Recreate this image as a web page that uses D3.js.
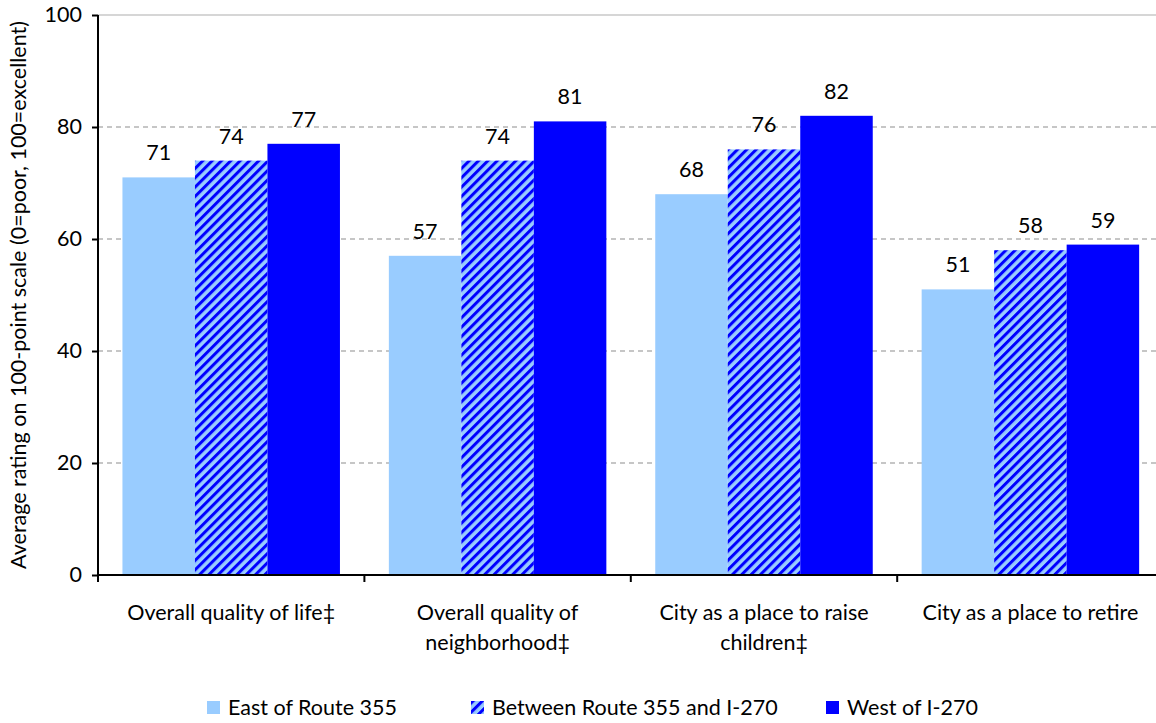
<!DOCTYPE html>
<html>
<head>
<meta charset="utf-8">
<script src="https://cdn.jsdelivr.net/npm/d3@7"></script>
<style>
  html, body { margin: 0; padding: 0; background: #fff; overflow: hidden; }
  svg { display: block; }
  text { font-family: Lato, "Open Sans", sans-serif; fill: #000; }
</style>
</head>
<body>
<svg id="chart" width="1156" height="723"></svg>
<script>
const categories = [
  ["Overall quality of life‡"],
  ["Overall quality of", "neighborhood‡"],
  ["City as a place to raise", "children‡"],
  ["City as a place to retire"]
];
const seriesNames = ["East of Route 355", "Between Route 355 and I-270", "West of I-270"];
const eastValues = [71, 57, 68, 51];
const betweenValues = [74, 74, 76, 58];
const westValues = [77, 81, 82, 59];
const yTicks = [0, 20, 40, 60, 80, 100];
const yTitle = "Average rating on 100-point scale (0=poor, 100=excellent)";

const svg = d3.select("#chart");
const W = 1156, H = 723;
const m = { left: 98, top: 15, bottom: 148 };
const plotW = 1065.6;           // plot area extends slightly past the right edge (cropped)
const plotH = H - m.top - m.bottom;
const FS = 21.5;
const groupBarsW = 217.5;

const defs = svg.append("defs");
const pat = defs.append("pattern")
  .attr("id", "hatch")
  .attr("patternUnits", "userSpaceOnUse")
  .attr("width", 6.6).attr("height", 6.6)
  .attr("patternTransform", "rotate(45)");
pat.append("rect").attr("width", 6.6).attr("height", 6.6).attr("fill", "#99CCFF");
pat.append("rect").attr("width", 3).attr("height", 6.6).attr("fill", "#0000FF");

const fills = ["#99CCFF", "url(#hatch)", "#0000FF"];

const g = svg.append("g").attr("transform", `translate(${m.left},${m.top})`);

const x0 = d3.scaleBand().domain(d3.range(categories.length)).range([0, plotW]).paddingInner(0).paddingOuter(0);
const x1 = d3.scaleBand().domain(d3.range(3)).range([0, groupBarsW]);
const y = d3.scaleLinear().domain([0, 100]).range([plotH, 0]);

// gridlines
g.selectAll(".grid").data(yTicks.filter(d => d > 0)).enter().append("line")
  .attr("x1", 0).attr("x2", plotW)
  .attr("y1", d => y(d)).attr("y2", d => y(d))
  .attr("stroke", d => d === 100 ? "#c8c8c8" : "#b4b4b4")
  .attr("stroke-width", d => d === 100 ? 1.5 : 1.3)
  .attr("stroke-dasharray", d => d === 100 ? null : "5,4");

const data = categories.map((c, i) => ({ i, values: [eastValues[i], betweenValues[i], westValues[i]] }));

const groups = g.selectAll(".grp").data(data).enter().append("g")
  .attr("transform", d => `translate(${x0(d.i) + (x0.bandwidth() - groupBarsW) / 2},0)`);

groups.selectAll("rect").data(d => d.values.map((v, s) => ({ v, s }))).enter().append("rect")
  .attr("x", d => x1(d.s))
  .attr("width", x1.bandwidth())
  .attr("y", d => y(d.v))
  .attr("height", d => y(0) - y(d.v))
  .attr("fill", d => fills[d.s]);

groups.selectAll(".lbl").data(d => d.values.map((v, s) => ({ v, s }))).enter().append("text")
  .attr("x", d => x1(d.s) + x1.bandwidth() / 2)
  .attr("y", d => y(d.v) - 17)
  .attr("text-anchor", "middle")
  .attr("font-size", FS)
  .text(d => d.v);

// y axis
const yAxis = g.append("g").call(d3.axisLeft(y).tickValues(yTicks).tickSize(6).tickPadding(10).tickFormat(d3.format("d")));
yAxis.select(".domain").attr("stroke", "#000").attr("stroke-width", 2).attr("d", `M0,${plotH}V0`);
yAxis.selectAll(".tick line").attr("stroke", "#000").attr("stroke-width", 2);
yAxis.selectAll(".tick text").attr("font-size", FS).attr("font-family", "Lato, sans-serif").attr("fill", "#000");

// x axis
const xAxisG = g.append("g").attr("transform", `translate(0,${plotH})`);
xAxisG.append("line").attr("x1", 0).attr("x2", plotW).attr("y1", 0).attr("y2", 0).attr("stroke", "#000").attr("stroke-width", 2);
const bounds = d3.range(categories.length + 1).map(i => i < categories.length ? x0(i) : plotW);
xAxisG.selectAll(".xt").data(bounds).enter().append("line")
  .attr("x1", d => d).attr("x2", d => d).attr("y1", 0).attr("y2", 7)
  .attr("stroke", "#000").attr("stroke-width", 2);

const catText = xAxisG.selectAll(".cat").data(categories).enter().append("text")
  .attr("text-anchor", "middle")
  .attr("font-size", FS)
  .attr("transform", (d, i) => `translate(${x0(i) + x0.bandwidth() / 2},45)`);
catText.selectAll("tspan").data(d => d).enter().append("tspan")
  .attr("x", 0).attr("dy", (d, i) => i === 0 ? 0 : 29.5).text(d => d);

// y title
svg.append("text")
  .attr("transform", `translate(26,${m.top + plotH / 2}) rotate(-90)`)
  .attr("text-anchor", "middle")
  .attr("font-size", FS)
  .text(yTitle);

// legend
const legendX = [207, 471, 826];
const leg = svg.selectAll(".leg").data(seriesNames).enter().append("g")
  .attr("transform", (d, i) => `translate(${legendX[i]},701)`);
leg.append("rect").attr("width", 13).attr("height", 13).attr("fill", (d, i) => fills[i]);
leg.append("text").attr("x", 21).attr("y", 14).attr("font-size", FS).text(d => d);
</script>
</body>
</html>
